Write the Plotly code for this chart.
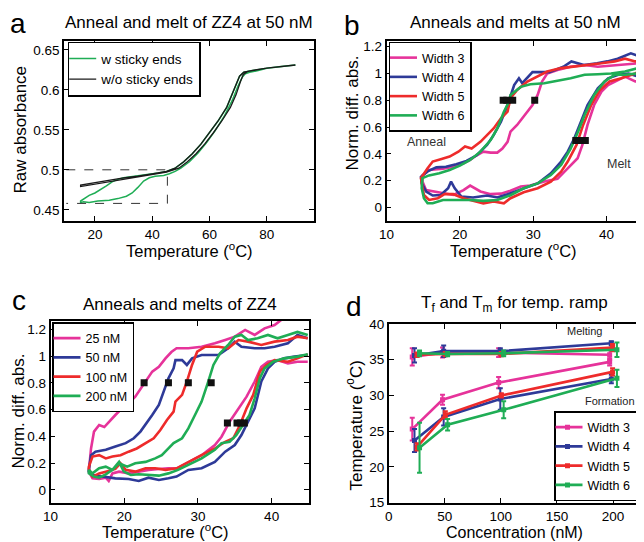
import plotly.graph_objects as go

FONT = "Liberation Sans, Arial, Helvetica, sans-serif"
PINK = "#E6339A"
BLUE = "#2E3A98"
RED = "#EE2B2B"
GREEN = "#1FAD55"

# ---------------- Panel a : raw absorbance ----------------
a_blk_ann_T = [15, 20, 25, 30, 35, 40, 45, 48, 51, 54, 57, 60, 63, 66, 68, 69.5, 70.5, 72, 75, 80, 85, 90]
a_blk_ann_A = [0.481, 0.484, 0.487, 0.490, 0.492, 0.495, 0.498, 0.502, 0.510, 0.520, 0.532, 0.546, 0.561, 0.578,
               0.594, 0.608, 0.617, 0.622, 0.624, 0.627, 0.629, 0.631]
a_blk_mlt_T = [15, 20, 25, 30, 35, 40, 45, 49.3, 52.3, 55.3, 58.3, 61.3, 64.3, 67.3, 69.3, 70.8, 71.8, 73.3, 76,
               80, 85, 90]
a_blk_mlt_A = [0.479, 0.482, 0.485, 0.488, 0.491, 0.494, 0.497, 0.502, 0.510, 0.520, 0.532, 0.546, 0.561, 0.578,
               0.594, 0.610, 0.619, 0.623, 0.625, 0.627, 0.629, 0.631]
a_grn_ann_T = [15, 16, 18, 20, 22, 24, 26, 28, 30, 34, 38, 42, 45, 48, 51, 54, 57, 60, 63, 66, 68, 69.5, 70.5,
               72, 75, 80, 85, 90]
a_grn_ann_A = [0.461, 0.464, 0.468, 0.471, 0.475, 0.480, 0.485, 0.488, 0.490, 0.492, 0.494, 0.496, 0.498, 0.502,
               0.510, 0.520, 0.532, 0.546, 0.561, 0.578, 0.594, 0.608, 0.617, 0.622, 0.624, 0.627, 0.629, 0.631]
a_grn_mlt_T = [15, 16, 18, 21, 25, 28, 31, 33, 35, 37, 39, 41, 44, 46, 48, 50, 53, 56, 59, 62, 65, 68, 70, 71.5,
               72.5, 74, 77, 80, 85, 90]
a_grn_mlt_A = [0.459, 0.460, 0.459, 0.461, 0.462, 0.464, 0.467, 0.471, 0.478, 0.486, 0.490, 0.492, 0.493, 0.495,
               0.498, 0.502, 0.510, 0.521, 0.534, 0.549, 0.566, 0.587, 0.605, 0.616, 0.620, 0.622, 0.624, 0.627,
               0.629, 0.631]
a_box_T = [10, 45.3, 45.3, 10]
a_box_A = [0.500, 0.500, 0.458, 0.458]

# ---------------- Panel b : widths at 50 nM ----------------
b_w3_ann_T = [45.2, 44.3, 42.5, 40.6, 38.8, 37.0, 35.1, 33.3, 31.9, 31.2, 30.6, 29.9, 28.9, 27.8, 26.9, 26.5, 25.8,
              25.1, 24.2, 23.2, 22.3, 21.4, 20.5, 19.1, 17.7, 15.8, 14.9]
b_w3_ann_V = [1.08, 1.076, 1.068, 1.063, 1.05, 1.063, 1.05, 1.026, 1.0, 0.94, 0.84, 0.765, 0.69, 0.616, 0.566,
              0.49, 0.44, 0.41, 0.41, 0.417, 0.39, 0.355, 0.33, 0.305, 0.29, 0.28, 0.24]
b_w3_mlt_T = [14.9, 15.4, 16.3, 17.7, 19.1, 20.5, 21.4, 22.8, 24.2, 25.6, 26.9, 28.3, 29.6, 31.5, 33.3, 34.7,
              36.05, 36.7, 37.4, 38.3, 39.3, 40.2, 41.1, 42.5, 43.9, 45.2]
b_w3_mlt_V = [0.194, 0.13, 0.12, 0.107, 0.094, 0.13, 0.164, 0.12, 0.1, 0.104, 0.125, 0.157, 0.164, 0.194, 0.214,
              0.293, 0.368, 0.467, 0.616, 0.765, 0.865, 0.914, 0.94, 0.976, 0.94, 0.95]

b_w4_ann_T = [45.4, 44.7, 43.3, 41.5, 40.1, 38.7, 36.9, 35.2, 34.1, 32.2, 29.9, 28.5, 28.05, 27.4, 26.5, 25.6,
              24.6, 23.7, 22.3, 20.9, 19.5, 18.1, 16.8, 15.6, 14.7]
b_w4_ann_V = [1.125, 1.125, 1.15, 1.11, 1.09, 1.075, 1.063, 1.09, 1.05, 1.01, 1.01, 0.927, 0.964, 0.914, 0.765,
              0.64, 0.54, 0.467, 0.39, 0.348, 0.323, 0.305, 0.3, 0.27, 0.23]
b_w4_mlt_T = [14.8, 15.4, 16.3, 17.4, 18.4, 18.8, 19.3, 20.2, 21.8, 23.7, 25.1, 26.5, 28.7, 30.6, 32.4, 33.8,
              34.7, 35.6, 36.5, 37.4, 38.8, 40.2, 41.6, 43.0, 44.3, 45.2]
b_w4_mlt_V = [0.18, 0.12, 0.09, 0.094, 0.144, 0.194, 0.144, 0.082, 0.075, 0.09, 0.075, 0.1, 0.144, 0.18, 0.256,
              0.343, 0.417, 0.517, 0.64, 0.765, 0.89, 0.964, 0.99, 1.0, 0.976, 0.99]

b_w5_ann_T = [45.2, 43.9, 42.5, 41.1, 39.3, 37.4, 35.6, 33.8, 31.9, 30.6, 29.2, 27.8, 26.9, 26.5, 25.6, 24.6,
              23.7, 22.8, 21.6, 20.7, 19.8, 18.6, 17.5, 16.3, 15.6, 14.7]
b_w5_ann_V = [1.093, 1.09, 1.11, 1.09, 1.076, 1.063, 1.05, 1.04, 1.014, 0.976, 0.94, 0.877, 0.815, 0.715, 0.666,
              0.59, 0.54, 0.49, 0.44, 0.455, 0.417, 0.38, 0.363, 0.343, 0.293, 0.22]
b_w5_mlt_T = [14.8, 15.1, 15.8, 17.0, 17.9, 19.1, 20.5, 21.9, 23.2, 24.6, 26.0, 26.9, 28.7, 30.6, 32.4, 33.8,
              34.7, 35.9, 36.8, 37.9, 39.1, 40.4, 42.0, 43.9, 45.2]
b_w5_mlt_V = [0.18, 0.094, 0.057, 0.07, 0.1, 0.1, 0.07, 0.05, 0.032, 0.045, 0.032, 0.07, 0.114, 0.144, 0.194,
              0.268, 0.343, 0.467, 0.616, 0.765, 0.877, 0.94, 0.964, 1.0, 1.04]

b_w6_ann_T = [45.2, 44.3, 42.5, 40.6, 38.8, 37.0, 35.1, 32.8, 31.5, 29.6, 28.3, 26.9, 26.7, 26.0, 25.1, 24.2,
              22.8, 21.4, 20.0, 18.6, 17.2, 15.8, 14.9]
b_w6_ann_V = [1.04, 1.04, 1.014, 1.0, 0.994, 0.99, 0.964, 0.94, 0.927, 0.92, 0.90, 0.84, 0.79, 0.715, 0.59,
              0.504, 0.417, 0.355, 0.313, 0.28, 0.256, 0.24, 0.22]
b_w6_mlt_T = [14.8, 15.1, 15.6, 16.3, 17.7, 19.5, 21.4, 23.2, 25.1, 26.9, 28.7, 30.6, 32.4, 33.8, 35.1, 36.1,
              37.0, 38.3, 39.7, 41.1, 42.5, 44.3, 45.2]
b_w6_mlt_V = [0.144, 0.07, 0.032, 0.032, 0.057, 0.057, 0.057, 0.05, 0.057, 0.092, 0.144, 0.18, 0.243, 0.318,
              0.44, 0.566, 0.69, 0.84, 0.94, 0.99, 0.99, 1.0, 1.04]

b_tf_T = [30.2, 25.9, 27.2, 26.4]
b_tf_V = [0.8, 0.8, 0.8, 0.8]
b_tm_T = [36.6, 35.8, 37.1, 36.2]
b_tm_V = [0.5, 0.5, 0.5, 0.5]

# ---------------- Panel c : ZZ4 concentrations ----------------
c_25_ann_T = [41.3, 40.4, 39.04, 37.7, 36.4, 35.0, 33.7, 32.3, 30.5, 28.7, 27.1, 26.4, 25.6, 24.7, 23.8, 22.9,
              22.2, 21.5, 20.6, 19.7, 18.8, 17.9, 17.3, 16.6, 15.9, 15.5, 15.16]
c_25_ann_V = [1.27, 1.232, 1.207, 1.158, 1.195, 1.145, 1.12, 1.095, 1.07, 1.058, 1.058, 1.03, 0.983, 0.92, 0.884,
              0.81, 0.747, 0.697, 0.647, 0.61, 0.56, 0.51, 0.47, 0.485, 0.436, 0.31, 0.16]
c_25_mlt_T = [15.2, 15.7, 16.6, 17.5, 17.9, 18.4, 19.3, 20.6, 21.97, 23.3, 24.7, 26.0, 27.1, 28.7, 30.5, 32.3,
              33.2, 34.3, 35.5, 36.6, 37.7, 38.6, 39.5, 40.8, 42.2, 43.5, 44.9]
c_25_mlt_V = [0.137, 0.087, 0.082, 0.092, 0.067, 0.124, 0.137, 0.124, 0.137, 0.15, 0.157, 0.162, 0.16, 0.21, 0.26,
              0.336, 0.398, 0.51, 0.61, 0.697, 0.81, 0.92, 0.958, 0.97, 0.946, 0.958, 0.958]

c_50_ann_T = [44.9, 43.5, 42.2, 40.4, 39.04, 37.7, 35.9, 35.0, 34.1, 32.8, 30.5, 29.2, 28.5, 27.85, 26.95, 26.7,
              26.0, 25.3, 24.7, 23.8, 22.9, 22.2, 21.3, 20.2, 18.8, 17.5, 16.1, 15.5, 15.2]
c_50_ann_V = [1.133, 1.158, 1.095, 1.07, 1.058, 1.058, 1.07, 1.108, 1.058, 1.008, 1.008, 0.983, 0.934, 0.97, 0.97,
              0.908, 0.834, 0.734, 0.635, 0.56, 0.485, 0.436, 0.386, 0.35, 0.324, 0.3, 0.286, 0.26, 0.15]
c_50_mlt_T = [15.2, 15.7, 17.0, 18.8, 20.6, 21.97, 23.3, 24.7, 26.0, 27.1, 28.7, 30.5, 32.3, 33.7, 35.0, 35.9,
              36.8, 37.7, 38.6, 39.5, 40.4, 41.7, 43.1, 44.9]
c_50_mlt_V = [0.137, 0.112, 0.1, 0.087, 0.082, 0.067, 0.092, 0.075, 0.087, 0.1, 0.15, 0.162, 0.21, 0.286, 0.336,
              0.41, 0.51, 0.61, 0.81, 0.908, 0.958, 0.983, 0.996, 1.008]

c_100_ann_T = [44.9, 43.5, 42.2, 40.4, 38.6, 36.8, 35.5, 34.1, 32.8, 31.0, 29.9, 29.2, 28.5, 27.85, 26.95, 26.7,
               25.8, 24.9, 24.0, 22.9, 21.7, 20.6, 19.5, 18.4, 17.5, 16.6, 15.7, 15.2]
c_100_ann_V = [1.133, 1.145, 1.12, 1.108, 1.083, 1.108, 1.12, 1.058, 1.07, 1.07, 1.033, 0.934, 0.81, 0.71, 0.66,
               0.585, 0.523, 0.448, 0.386, 0.35, 0.31, 0.286, 0.26, 0.25, 0.236, 0.26, 0.25, 0.174]
c_100_mlt_T = [15.2, 15.7, 16.6, 17.5, 18.8, 19.5, 20.2, 21.5, 22.9, 24.2, 25.6, 27.1, 28.7, 30.5, 32.3, 33.7,
               34.8, 35.7, 36.6, 37.5, 38.4, 39.3, 40.4, 42.2, 43.5, 44.9]
c_100_mlt_V = [0.157, 0.1, 0.124, 0.137, 0.157, 0.2, 0.15, 0.137, 0.162, 0.162, 0.15, 0.162, 0.21, 0.26, 0.31,
               0.36, 0.386, 0.485, 0.61, 0.71, 0.884, 0.934, 0.97, 0.958, 0.983, 1.013]

c_200_ann_T = [44.9, 43.5, 42.2, 40.8, 39.5, 38.1, 36.8, 35.9, 35.0, 34.1, 33.0, 32.1, 31.4, 30.5, 29.6, 28.7,
               27.85, 26.95, 26.7, 26.0, 25.1, 24.2, 22.9, 21.5, 20.4, 19.3, 18.4, 17.5, 16.6, 15.7, 15.2]
c_200_ann_V = [1.158, 1.18, 1.158, 1.133, 1.158, 1.133, 1.12, 1.158, 1.145, 1.083, 1.02, 0.934, 0.81, 0.66, 0.56,
               0.46, 0.386, 0.36, 0.35, 0.31, 0.26, 0.236, 0.21, 0.2, 0.174, 0.2, 0.15, 0.174, 0.162, 0.124, 0.15]
c_200_mlt_T = [15.2, 15.9, 16.6, 17.5, 18.4, 19.3, 19.95, 20.9, 21.97, 23.3, 24.7, 26.0, 27.3, 28.7, 30.5, 32.3,
               33.2, 34.3, 35.2, 36.1, 37.0, 37.7, 38.4, 39.04, 40.2, 41.7, 43.5, 44.9]
c_200_mlt_V = [0.124, 0.1, 0.092, 0.117, 0.15, 0.21, 0.137, 0.112, 0.117, 0.112, 0.107, 0.124, 0.15, 0.187, 0.236,
               0.3, 0.35, 0.36, 0.41, 0.485, 0.56, 0.685, 0.834, 0.908, 0.958, 0.983, 0.996, 1.013]

c_tf_T = [22.7, 26.0, 28.7, 31.8]
c_tf_V = [0.8, 0.8, 0.8, 0.8]
c_tm_T = [34.0, 35.3, 35.8, 36.3]
c_tm_V = [0.5, 0.5, 0.5, 0.5]

# ---------------- Panel d : Tf and Tm vs concentration ----------------
d_conc_w3 = [21, 48, 98, 197]
d_conc_w4 = [23, 49, 99.5, 198.5]
d_conc_w5 = [25.3, 50.5, 100.4, 199.6]
d_conc_w6 = [27.5, 52.5, 102.5, 203.5]
d_tm_w3 = [35.4, 36.0, 36.0, 35.7]
d_tm_w4 = [35.6, 36.2, 36.2, 37.3]
d_tm_w5 = [35.7, 35.8, 35.8, 36.7]
d_tm_w6 = [35.9, 35.8, 35.9, 36.4]
d_tm_err_w3 = [1.2, 0.7, 0.6, 0.7]
d_tm_err_w4 = [1.0, 0.8, 0.4, 0.3]
d_tm_err_w5 = [0.3, 0.3, 0.3, 0.5]
d_tm_err_w6 = [0.4, 0.3, 0.4, 1.0]
d_tf_w3 = [25.3, 29.4, 31.8, 34.7]
d_tf_w4 = [23.7, 27.0, 29.5, 32.3]
d_tf_w5 = [22.8, 27.3, 30.0, 33.3]
d_tf_w6 = [22.7, 25.9, 28.0, 32.4]
d_tf_err_w3 = [1.6, 0.7, 0.8, 0.5]
d_tf_err_w4 = [1.6, 1.2, 1.5, 0.6]
d_tf_err_w5 = [0.5, 0.5, 0.3, 0.5]
d_tf_err_w6 = [3.5, 0.8, 1.2, 1.2]

# tick labels
a_xticks = [20, 40, 60, 80]
a_yticks = [0.45, 0.5, 0.55, 0.6, 0.65]
a_yticktext = ["0.45", "0.5", "0.55", "0.6", "0.65"]
bc_xticks = [10, 20, 30, 40]
bc_yticks = [0, 0.2, 0.4, 0.6, 0.8, 1, 1.2]
bc_yticktext = ["0", "0.2", "0.4", "0.6", "0.8", "1", "1.2"]
d_xticks = [0, 50, 100, 150, 200]
d_yticks = [15, 20, 25, 30, 35, 40]

# the page body has an 8 px margin: size the figure to fill the window exactly
OFF = 8
W, H = 644 - OFF, 542 - OFF


def px_x(p):
    return (p - OFF) / W


def px_y(p):
    return 1 - (p - OFF) / H


fig = go.Figure()

# panel a traces
fig.add_trace(go.Scatter(x=a_grn_ann_T[::-1] + a_grn_mlt_T, y=a_grn_ann_A[::-1] + a_grn_mlt_A, mode="lines",
                         line=dict(color=GREEN, width=1.5), name="w sticky ends", xaxis="x", yaxis="y",
                         legend="legend"))
fig.add_trace(go.Scatter(x=a_blk_ann_T[::-1] + a_blk_mlt_T, y=a_blk_ann_A[::-1] + a_blk_mlt_A, mode="lines",
                         line=dict(color="#1a1a1a", width=1.3), name="w/o sticky ends", xaxis="x", yaxis="y",
                         legend="legend"))
fig.add_trace(go.Scatter(x=a_box_T, y=a_box_A, mode="lines", line=dict(color="#333333", width=1, dash="dash"),
                         showlegend=False, xaxis="x", yaxis="y", hoverinfo="skip"))

# panel b traces
for name, col, aT, aV, mT, mV in [
    ("Width 3", PINK, b_w3_ann_T, b_w3_ann_V, b_w3_mlt_T, b_w3_mlt_V),
    ("Width 4", BLUE, b_w4_ann_T, b_w4_ann_V, b_w4_mlt_T, b_w4_mlt_V),
    ("Width 5", RED, b_w5_ann_T, b_w5_ann_V, b_w5_mlt_T, b_w5_mlt_V),
    ("Width 6", GREEN, b_w6_ann_T, b_w6_ann_V, b_w6_mlt_T, b_w6_mlt_V),
]:
    fig.add_trace(go.Scatter(x=aT + mT, y=aV + mV, mode="lines", line=dict(color=col, width=2.6), name=name,
                             xaxis="x2", yaxis="y2", legend="legend2"))
fig.add_trace(go.Scatter(x=b_tf_T + b_tm_T, y=b_tf_V + b_tm_V, mode="markers",
                         marker=dict(symbol="square", size=7, color="#111111"), showlegend=False,
                         xaxis="x2", yaxis="y2"))

# panel c traces
for name, col, aT, aV, mT, mV in [
    ("25 nM", PINK, c_25_ann_T, c_25_ann_V, c_25_mlt_T, c_25_mlt_V),
    ("50 nM", BLUE, c_50_ann_T, c_50_ann_V, c_50_mlt_T, c_50_mlt_V),
    ("100 nM", RED, c_100_ann_T, c_100_ann_V, c_100_mlt_T, c_100_mlt_V),
    ("200 nM", GREEN, c_200_ann_T, c_200_ann_V, c_200_mlt_T, c_200_mlt_V),
]:
    fig.add_trace(go.Scatter(x=aT + mT, y=aV + mV, mode="lines", line=dict(color=col, width=2.6), name=name,
                             xaxis="x3", yaxis="y3", legend="legend3"))
fig.add_trace(go.Scatter(x=c_tf_T + c_tm_T, y=c_tf_V + c_tm_V, mode="markers",
                         marker=dict(symbol="square", size=7, color="#111111"), showlegend=False,
                         xaxis="x3", yaxis="y3"))

# panel d traces
for name, col, cx, tm, tme, tf, tfe in [
    ("Width 3", PINK, d_conc_w3, d_tm_w3, d_tm_err_w3, d_tf_w3, d_tf_err_w3),
    ("Width 4", BLUE, d_conc_w4, d_tm_w4, d_tm_err_w4, d_tf_w4, d_tf_err_w4),
    ("Width 5", RED, d_conc_w5, d_tm_w5, d_tm_err_w5, d_tf_w5, d_tf_err_w5),
    ("Width 6", GREEN, d_conc_w6, d_tm_w6, d_tm_err_w6, d_tf_w6, d_tf_err_w6),
]:
    fig.add_trace(go.Scatter(x=cx, y=tm, mode="lines+markers", line=dict(color=col, width=2.6),
                             marker=dict(symbol="square", size=5, color=col),
                             error_y=dict(type="data", array=tme, color=col, thickness=2, width=2.5),
                             name=name, legendgroup=name, showlegend=False, xaxis="x4", yaxis="y4"))
    fig.add_trace(go.Scatter(x=cx, y=tf, mode="lines+markers", line=dict(color=col, width=2.6),
                             marker=dict(symbol="square", size=5, color=col),
                             error_y=dict(type="data", array=tfe, color=col, thickness=2, width=2.5),
                             name=name, legendgroup=name, xaxis="x4", yaxis="y4", legend="legend4"))


def axis(domain, rng, tickvals, ticktext, anchor):
    return dict(domain=domain, range=rng, tickvals=tickvals, ticktext=ticktext, anchor=anchor,
                showline=True, mirror="ticks", ticks="inside", ticklen=5, tickwidth=1, tickcolor="black",
                linecolor="black", linewidth=1.6, showgrid=False, zeroline=False, automargin=False,
                tickfont=dict(family=FONT, size=13.5, color="black"))


legend_common = dict(bgcolor="white", bordercolor="black", borderwidth=1.5, itemwidth=30, tracegroupgap=0,
                     indentation=-8, font=dict(family=FONT, size=12.5, color="black"),
                     xanchor="left", yanchor="top")

fig.update_layout(
    width=W, height=H, margin=dict(l=0, r=0, t=0, b=0, autoexpand=False),
    paper_bgcolor="white", plot_bgcolor="white",
    font=dict(family=FONT, color="black"),
    xaxis=axis([px_x(64), px_x(314)], [9.2, 96.5], a_xticks, [str(v) for v in a_xticks], "y"),
    yaxis=axis([px_y(221), px_y(41)], [0.436, 0.661], a_yticks, a_yticktext, "x"),
    xaxis2=axis([px_x(386.5), px_x(643.3)], [10, 45], bc_xticks, [str(v) for v in bc_xticks], "y2"),
    yaxis2=axis([px_y(221), px_y(41)], [-0.1, 1.242], bc_yticks, bc_yticktext, "x2"),
    xaxis3=axis([px_x(50.5), px_x(308.5)], [10, 45], bc_xticks, [str(v) for v in bc_xticks], "y3"),
    yaxis3=axis([px_y(502.7), px_y(321)], [-0.095, 1.262], bc_yticks, bc_yticktext, "x3"),
    xaxis4=axis([px_x(388.7), px_x(643.3)], [0, 227], d_xticks, [str(v) for v in d_xticks], "y4"),
    yaxis4=axis([px_y(502.7), px_y(324)], [15, 40], d_yticks, [str(v) for v in d_yticks], "x4"),
    legend=dict(legend_common, x=px_x(67.7), y=px_y(41.7), font=dict(family=FONT, size=13.5, color="black")),
    legend2=dict(legend_common, x=px_x(388.5), y=px_y(41.5)),
    legend3=dict(legend_common, x=px_x(52), y=px_y(322)),
    legend4=dict(legend_common, x=px_x(637), y=px_y(501), xanchor="right", yanchor="bottom"),
    showlegend=True,
)


def ann(text, x, y, size, xref="paper", yref="paper", angle=0, color="black"):
    fig.add_annotation(text=text, x=x, y=y, xref=xref, yref=yref, showarrow=False, textangle=angle,
                       font=dict(family=FONT, size=size, color=color), xanchor="center", yanchor="middle")


# panel letters
ann("a", px_x(17.5), px_y(24), 28)
ann("b", px_x(352), px_y(26), 28)
ann("c", px_x(18.8), px_y(300), 28)
ann("d", px_x(353.7), px_y(306), 28)
# titles
ann("Anneal and melt of ZZ4 at 50 nM", px_x(189), px_y(22.5), 17)
ann("Anneals and melts at 50 nM", px_x(515.3), px_y(22.5), 17)
ann("Anneals and melts of ZZ4", px_x(179.5), px_y(304), 17)
ann("T<sub>f</sub> and T<sub>m</sub> for temp. ramp", px_x(514.8), px_y(304), 17)
# axis titles
XT = "Temperature (<sup>o</sup>C)"
ann(XT, px_x(189), px_y(249.5), 16.5)
ann(XT, px_x(513), px_y(249.5), 16.5)
ann(XT, px_x(165), px_y(531), 16.5)
ann("Concentration (nM)", px_x(514.5), px_y(532), 16)
ann("Raw absorbance", px_x(19.5), px_y(130), 17, angle=-90)
ann("Norm. diff. abs.", px_x(352), px_y(113.5), 17, angle=-90)
ann("Norm. diff. abs.", px_x(17.5), px_y(411), 17, angle=-90)
ann(XT, px_x(354.5), px_y(426), 17, angle=-90)
# in-plot labels
ann("Anneal", 15.5, 0.49, 12.5, xref="x2", yref="y2", color="#333333")
ann("Melt", 41.7, 0.326, 12.5, xref="x2", yref="y2", color="#333333")
ann("Melting", 174.5, 39.06, 11, xref="x4", yref="y4", color="#222222")
ann("Formation", 197.2, 29.2, 11, xref="x4", yref="y4", color="#222222")

fig.write_html("out.html")
